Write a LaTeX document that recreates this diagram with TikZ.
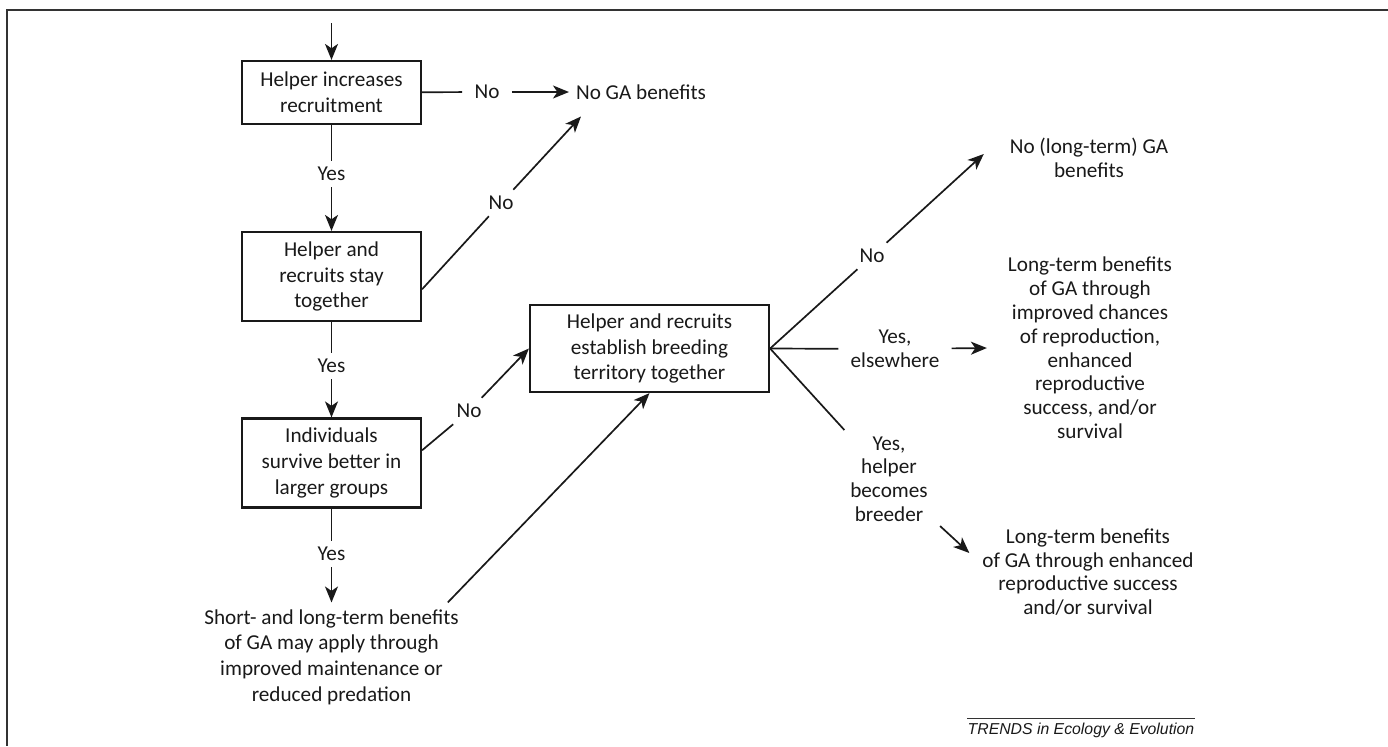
\documentclass[tikz,border=0pt]{standalone}
\usepackage{fontspec}
\setmainfont{Carlito}
\newfontfamily\creditfont{Liberation Sans}
\usetikzlibrary{arrows.meta}
\tikzstyle{every node}=[font=\fontsize{10.6}{12.8}\selectfont,text=black!90]
\tikzstyle{question}=[draw=black!90,
                      line width=1.1pt,
                      align=center,
                      minimum width=89.5pt,
                      minimum height=44.5pt,
                      inner sep=2pt]
\tikzstyle{outcome}=[align=center,
                     font=\fontsize{10.6}{11.9}\selectfont]
\tikzstyle{answer}=[align=center,
                    inner xsep=6pt,
                    inner ysep=3pt,
                    font=\fontsize{10.6}{11.9}\selectfont]
\tikzstyle{credit}=[font=\creditfont\itshape\fontsize{7.9}{9}\selectfont,
                    inner xsep=0pt,
                    inner ysep=2pt]
\tikzstyle{link}=[line width=0.85pt,draw=black!90]

\begin{document}
\begin{tikzpicture}[x=0.5pt,y=-0.5pt,>={Stealth[length=8pt,width=6.5pt,inset=2.2pt]}]
\useasboundingbox (0,0) rectangle (1388,746);
\draw[line width=1pt,black!80] (1388,10) -| (7,746);
% left column
\coordinate (entry) at (331.5,23);
\node (recruit) [question,minimum height=31.5pt] at (331.5,92.5) {Helper increases\\recruitment};
\node (stay)    [question] at (331.5,276.5) {Helper and\\recruits stay\\together};
\node (survive) [question] at (331.5,463) {Individuals\\survive better in\\larger groups};
\node (short)   [align=center] at (331.5,657) {Short- and long-term benefits\\of GA may apply through\\improved maintenance or\\reduced predation};
\node (yes1) [answer] at (331.5,174) {Yes};
\node (yes2) [answer] at (331.5,366) {Yes};
\node (yes3) [answer] at (331.5,554) {Yes};
% middle
\node (nobenefit) at (641,92) {No GA benefits};
\node (territory) [question,minimum width=119.5pt,minimum height=43.5pt] at (649.5,348.5) {Helper and recruits\\establish breeding\\territory together};
\node (no1) [answer] at (487,92) {No};
\node (no2) [answer] at (501,203) {No};
\node (no3) [answer] at (469,411) {No};
% right column
\node (nolong)   [outcome] at (1089,158) {No (long-term) GA\\benefits};
\node (longterm) [outcome] at (1090,348) {Long-term benefits\\of GA through\\improved chances\\of reproduction,\\enhanced\\reproductive\\success, and/or\\survival};
\node (breedben) [outcome] at (1088,572) {Long-term benefits\\of GA through enhanced\\reproductive success\\and/or survival};
\node (no4)      [answer] at (872,256) {No};
\node (yeselse)  [answer] at (895,349) {Yes,\\elsewhere};
\node (yesbreed) [answer] at (889,479) {Yes,\\helper\\becomes\\breeder};
\node (journal)  [credit] at (1081,730) {TRENDS in Ecology \& Evolution};
\draw[line width=0.5pt,black!80] (journal.north west) -- (journal.north east);

 \path[->] (entry) edge[link] (recruit);
 \path (recruit) edge[link] (yes1);
 \path[->] (yes1) edge[link] (stay);
 \path (stay) edge[link] (yes2);
 \path[->] (yes2) edge[link] (survive);
 \path (survive) edge[link] (yes3);
 \path[->] (yes3) edge[link] (short);
 \path (recruit) edge[link] (no1);
 \path[->] (no1) edge[link] (nobenefit);
 \path (stay.-8) edge[link] (no2);
 \path[->] (no2) edge[link] ([xshift=6pt,yshift=-5pt]nobenefit.south west);
 \path (survive.8) edge[link] (no3);
 \path[->] (no3) edge[link] (territory.west);
 \path[->] ([xshift=-9pt]short.north east) edge[link] (territory.south);
 \path (territory.east) edge[link] (no4);
 \path[->] (no4) edge[link] ([xshift=-9.5pt,yshift=2pt]nolong.west);
 \path (territory.east) edge[link] (yeselse);
 \path[->] (yeselse) edge[link] ([xshift=-7pt]longterm.west);
 \path (territory.east) edge[link] (yesbreed);
 \path[->] (yesbreed) edge[link] ([xshift=-3pt,yshift=9.5pt]breedben.west);
\end{tikzpicture}
\end{document}
